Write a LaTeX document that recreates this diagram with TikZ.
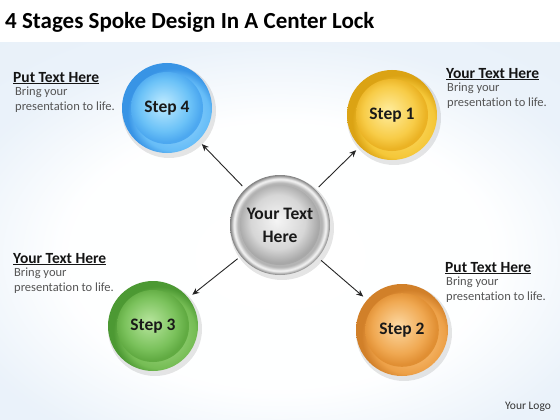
\documentclass[tikz,border=0pt]{standalone}
\usepackage{fontspec}
\setmainfont{Carlito}[Ligatures={NoCommon}]
\usetikzlibrary{arrows.meta}
% radial shadings (25bp = edge of the shaded circle)
\pgfdeclareradialshading{bluerim}{\pgfpoint{6bp}{-6bp}}{rgb(0bp)=(0.62,0.85,0.99); rgb(20bp)=(0.40,0.74,0.97); rgb(25bp)=(0.22,0.58,0.90); rgb(50bp)=(0.22,0.58,0.90)}
\pgfdeclareradialshading{bluecore}{\pgfpoint{-3bp}{3bp}}{rgb(0bp)=(0.75,0.92,1.0); rgb(18bp)=(0.42,0.76,0.97); rgb(25bp)=(0.30,0.66,0.94); rgb(50bp)=(0.30,0.66,0.94)}
\pgfdeclareradialshading{yelrim}{\pgfpoint{6bp}{-6bp}}{rgb(0bp)=(0.99,0.88,0.45); rgb(20bp)=(0.96,0.78,0.22); rgb(25bp)=(0.86,0.64,0.08); rgb(50bp)=(0.86,0.64,0.08)}
\pgfdeclareradialshading{yelcore}{\pgfpoint{-3bp}{3bp}}{rgb(0bp)=(1.0,0.93,0.62); rgb(18bp)=(0.97,0.80,0.28); rgb(25bp)=(0.92,0.70,0.14); rgb(50bp)=(0.92,0.70,0.14)}
\pgfdeclareradialshading{grnrim}{\pgfpoint{6bp}{-6bp}}{rgb(0bp)=(0.66,0.86,0.55); rgb(20bp)=(0.46,0.74,0.33); rgb(25bp)=(0.30,0.60,0.20); rgb(50bp)=(0.30,0.60,0.20)}
\pgfdeclareradialshading{grncore}{\pgfpoint{-3bp}{3bp}}{rgb(0bp)=(0.72,0.90,0.62); rgb(18bp)=(0.48,0.76,0.36); rgb(25bp)=(0.38,0.67,0.26); rgb(50bp)=(0.38,0.67,0.26)}
\pgfdeclareradialshading{orarim}{\pgfpoint{6bp}{-6bp}}{rgb(0bp)=(0.99,0.80,0.55); rgb(20bp)=(0.93,0.63,0.28); rgb(25bp)=(0.82,0.50,0.16); rgb(50bp)=(0.82,0.50,0.16)}
\pgfdeclareradialshading{oracore}{\pgfpoint{-3bp}{3bp}}{rgb(0bp)=(0.99,0.85,0.64); rgb(18bp)=(0.94,0.66,0.32); rgb(25bp)=(0.88,0.56,0.20); rgb(50bp)=(0.88,0.56,0.20)}
\pgfdeclareradialshading{grayrim}{\pgfpoint{0bp}{0bp}}{rgb(0bp)=(0.85,0.85,0.85); rgb(21bp)=(0.70,0.70,0.70); rgb(23bp)=(0.97,0.97,0.97); rgb(25bp)=(0.50,0.50,0.50); rgb(50bp)=(0.50,0.50,0.50)}
\pgfdeclareradialshading{graycore}{\pgfpoint{-2bp}{3bp}}{rgb(0bp)=(0.96,0.96,0.96); rgb(17bp)=(0.84,0.84,0.84); rgb(25bp)=(0.66,0.66,0.66); rgb(50bp)=(0.66,0.66,0.66)}
\pgfdeclareradialshading{bgshade}{\pgfpoint{0bp}{0bp}}{rgb(0bp)=(1,1,1); rgb(16bp)=(0.995,0.998,1); rgb(25bp)=(0.92,0.95,0.98); rgb(50bp)=(0.89,0.93,0.97)}
\definecolor{headc}{RGB}{20,20,20}
\definecolor{bodyc}{RGB}{85,85,85}
\tikzset{
  ball/.style={circle, inner sep=0pt, minimum size=#1, font=\fontsize{17.5}{20}\selectfont\bfseries, text=black!90},
  headtxt/.style={anchor=base west, inner sep=0pt, text=headc, font=\fontsize{15.5}{17}\selectfont\bfseries},
  bodytxt/.style={anchor=north west, inner sep=0pt, text=bodyc, align=left, font=\fontsize{12.5}{15}\selectfont},
  spoke/.style={-{Stealth[length=7pt,width=6pt]}, line width=0.9pt, black!85, shorten <=4pt, shorten >=5pt}
}
\newcommand{\myball}[5]{% name, x, y, R, prefix
  \fill[black, opacity=0.10] (#2+2,#3+3) circle (#4+2);
  \shade[shading=#5rim] (#2,#3) circle (#4);
  \shade[shading=#5core] (#2,#3) circle (0.80*#4);
}
\begin{document}
\begin{tikzpicture}[x=1pt,y=-1pt]
\useasboundingbox (0,0) rectangle (560,420);
\fill[white] (0,0) rectangle (560,420);
\shade[shading=bgshade] (-60,42) rectangle (620,470);
\fill[white] (0,0) rectangle (560,42);
\node[anchor=base west, inner sep=0pt, font=\fontsize{23}{26}\selectfont\bfseries, text=black] (title) at (5,29) {4 Stages Spoke Design In A Center Lock};

% balls
\myball{c}{280}{225}{50}{gray}
\myball{s4}{167}{108}{45}{blue}
\myball{s1}{392}{115}{45}{yel}
\myball{s3}{153}{326}{45}{grn}
\myball{s2}{402}{330}{46}{ora}

\node[ball=100pt, align=center, font=\fontsize{17.5}{23}\selectfont\bfseries] (c) at (280,225) {Your Text\\Here};
\node[ball=90pt] (s4) at (167,108) {Step 4};
\node[ball=90pt] (s1) at (392,115) {Step 1};
\node[ball=90pt] (s3) at (153,326) {Step 3};
\node[ball=92pt] (s2) at (402,330) {Step 2};

\draw[spoke] (c) -- (s4);
\draw[spoke] (c) -- (s1);
\draw[spoke] (c) -- (s3);
\draw[spoke] (c) -- (s2);

% text blocks
\node[headtxt] (h4) at (13,82) {\underline{Put Text Here}};
\node[bodytxt] (b4) at (15,87) {Bring your\\presentation to life.};
\node[headtxt] (h1) at (446,78) {\underline{Your Text Here}};
\node[bodytxt] (b1) at (447,83) {Bring your\\presentation to life.};
\node[headtxt] (h3) at (13,263) {\underline{Your Text Here}};
\node[bodytxt] (b3) at (14,268) {Bring your\\presentation to life.};
\node[headtxt] (h2) at (445,272) {\underline{Put Text Here}};
\node[bodytxt] (b2) at (446,277) {Bring your\\presentation to life.};
\node[anchor=base west, inner sep=0pt, text=black!80, font=\fontsize{11.5}{13}\selectfont] (logo) at (505,409) {Your Logo};
\end{tikzpicture}
\end{document}
